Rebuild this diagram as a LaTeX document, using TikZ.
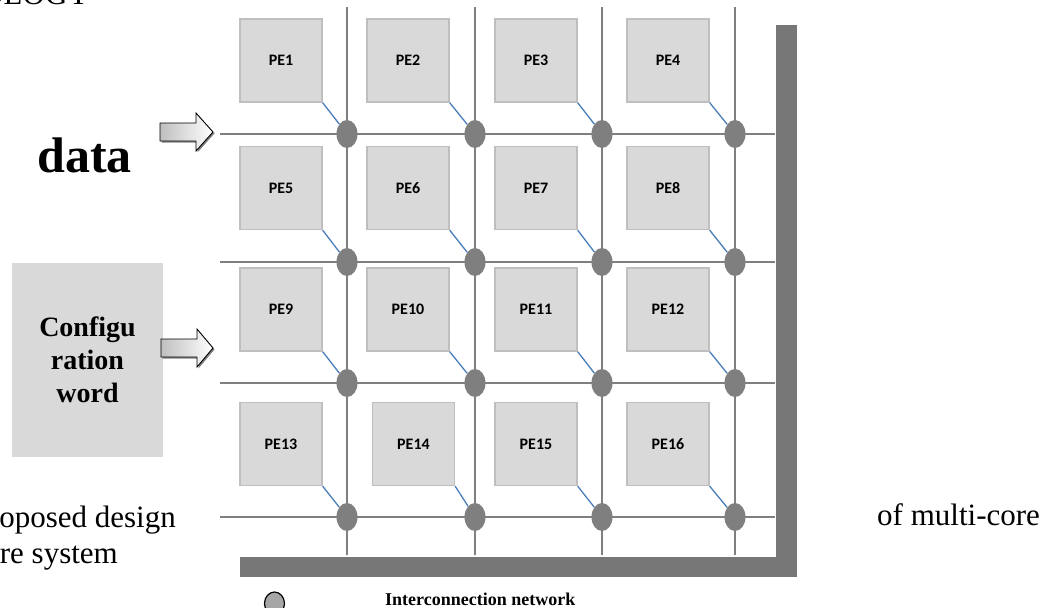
\documentclass[tikz,border=0pt]{standalone}
\usepackage{fontspec}
\setmainfont{Liberation Serif}
\newfontfamily\calibfont{Carlito}
\usetikzlibrary{shapes.geometric,shadows}
\definecolor{gridgray}{HTML}{7F7F7F}
\definecolor{bargray}{HTML}{777777}
\definecolor{boxfill}{HTML}{D9D9D9}
\definecolor{boxborder}{HTML}{BFBFBF}
\definecolor{linkblue}{HTML}{4A7EBB}
\definecolor{legendgray}{HTML}{A6A6A6}
\begin{document}
\begin{tikzpicture}[x=1pt,y=-1pt,
  pebox/.style={draw=boxborder, line width=1.3pt, fill=boxfill, minimum width=82pt, minimum height=83pt, inner sep=0pt, text height=10.5pt, text depth=0pt, font=\calibfont\bfseries\fontsize{16}{19}\selectfont},
  router/.style={ellipse, fill=gridgray, minimum width=21pt, minimum height=28pt, inner sep=0pt},
  gridline/.style={draw=gridgray, line width=1.8pt},
  link/.style={draw=linkblue, line width=1.3pt},
  bar/.style={fill=bargray},
  blockarrow/.style={draw=black, line width=0.9pt, left color=gray!50, right color=white, drop shadow={shadow xshift=1.5pt, shadow yshift=-1.5pt, opacity=0.7, fill=black!70}},
  bodytext/.style={font=\fontsize{31}{36}\selectfont, inner sep=0pt},
]
\clip (0,0) rectangle (1050,608);
\useasboundingbox (0,0) rectangle (1050,608);

% cut-off texts of the surrounding page
\node[bodytext, anchor=base east] (ology) at (90,4) {OLOGY};
\node[bodytext, anchor=base east] (proposed) at (176,527) {oposed design};
\node[bodytext, anchor=base east] (system) at (118,563) {re system};
\node[bodytext, anchor=base west] (multicore) at (877,525) {of multi-core};

% grid line ends
\foreach \i/\x in {1/347,2/475,3/602,4/735}{
  \coordinate (vt\i) at (\x,7);
  \coordinate (vb\i) at (\x,555);
}
\foreach \i/\y in {1/134,2/262,3/383,4/517}{
  \coordinate (hl\i) at (220,\y);
  \coordinate (hr\i) at (775,\y);
}
\foreach \i in {1,...,4}{
  \draw[gridline] (vt\i) -- (vb\i);
  \draw[gridline] (hl\i) -- (hr\i);
}

% frame bars
\fill[bar] (776,25) rectangle (797,577);
\fill[bar] (240,557) rectangle (797,577);

% processing elements
\node[pebox] (pe1)  at (281,60.5) {PE1};
\node[pebox] (pe2)  at (408,60.5) {PE2};
\node[pebox] (pe3)  at (536,60.5) {PE3};
\node[pebox] (pe4)  at (668,60.5) {PE4};
\node[pebox] (pe5)  at (281,188) {PE5};
\node[pebox] (pe6)  at (408,188) {PE6};
\node[pebox] (pe7)  at (536,188) {PE7};
\node[pebox] (pe8)  at (668,188) {PE8};
\node[pebox] (pe9)  at (281,309.5) {PE9};
\node[pebox] (pe10) at (408,309.5) {PE10};
\node[pebox] (pe11) at (536,309.5) {PE11};
\node[pebox] (pe12) at (668,309.5) {PE12};
\node[pebox] (pe13) at (281,444) {PE13};
\node[pebox] (pe14) at (413.5,444) {PE14};
\node[pebox] (pe15) at (536,444) {PE15};
\node[pebox] (pe16) at (668,444) {PE16};

% routers
\foreach \r/\y in {1/134,2/262,3/383,4/517}{
  \foreach \c/\x in {1/347,2/475,3/602,4/735}{
    \node[router] (n\r\c) at (\x,\y) {};
  }
}

% links PE -> router
\foreach \r in {1,...,4}{
  \foreach \c in {1,...,4}{
    \pgfmathtruncatemacro{\k}{4*(\r-1)+\c}
    \draw[link] (pe\k.south east) -- (n\r\c);
  }
}

% configuration word
\node[fill=boxfill, minimum width=151pt, minimum height=194pt, inner sep=0pt, align=center,
      font=\bfseries\fontsize{28}{33}\selectfont] (config) at (87.5,360) {Configu\\ration\\word};

% data label
\node[inner sep=0pt, anchor=base east, font=\bfseries\fontsize{50}{56}\selectfont] (data) at (132,172) {data};

% block arrows
\path[blockarrow] (160,123) -- (196,123) -- (196,113) -- (213,132) -- (196,151) -- (196,141) -- (160,141) -- cycle;
\path[blockarrow] (161,339) -- (197,339) -- (197,329) -- (213,348) -- (197,367) -- (197,357) -- (161,357) -- cycle;

% legend
\node[ellipse, draw=black, line width=1.2pt, fill=legendgray, minimum width=20pt, minimum height=23pt, inner sep=0pt] (legend) at (274.5,603.5) {};
\node[inner sep=0pt, anchor=base west, font=\bfseries\fontsize{18}{20}\selectfont] (legendtext) at (385,605) {Interconnection network};
\end{tikzpicture}
\end{document}
